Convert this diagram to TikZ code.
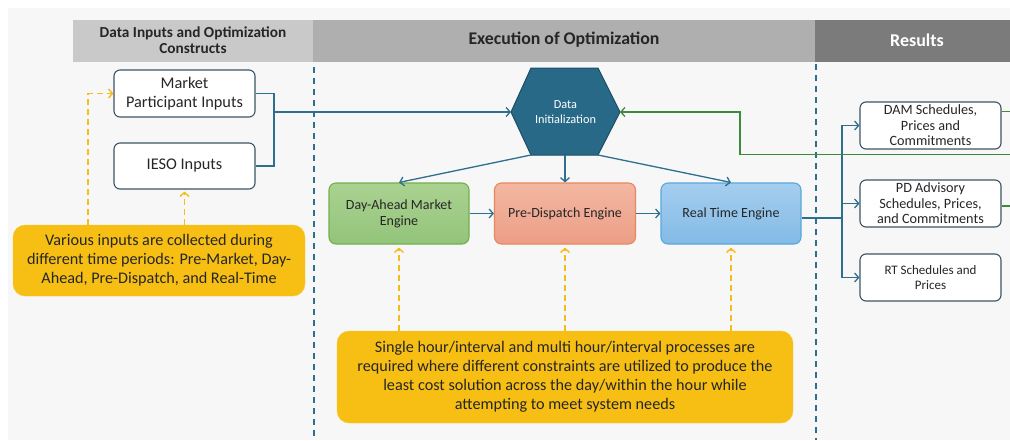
\documentclass[tikz,border=0pt]{standalone}
\usepackage{fontspec}
\setmainfont{Carlito}
\usetikzlibrary{arrows.meta,calc}
\definecolor{bgc}{HTML}{F7F7F7}
\definecolor{hdrA}{HTML}{C9C9C9}
\definecolor{hdrB}{HTML}{AFAFAF}
\definecolor{hdrC}{HTML}{7B7B7B}
\definecolor{conn}{HTML}{2E6F8E}
\definecolor{slate}{HTML}{3B5566}
\definecolor{hexfill}{HTML}{276987}
\definecolor{hexdraw}{HTML}{1D4E66}
\definecolor{damtop}{HTML}{AAD290}
\definecolor{dambot}{HTML}{93C47B}
\definecolor{damdraw}{HTML}{72B04E}
\definecolor{pdtop}{HTML}{F3B7A2}
\definecolor{pdbot}{HTML}{EC9E86}
\definecolor{pddraw}{HTML}{E8875F}
\definecolor{rttop}{HTML}{A5CEEF}
\definecolor{rtbot}{HTML}{83BAE6}
\definecolor{rtdraw}{HTML}{57A8DD}
\definecolor{yel}{HTML}{F7BF14}
\definecolor{yeldash}{HTML}{F5BD1A}
\definecolor{gline}{HTML}{3C8A3C}
\definecolor{txt}{HTML}{262626}
\tikzset{
  x=1pt, y=-1pt,
  inbox/.style={draw=slate, line width=1.1pt, fill=white, rounded corners=6pt, inner sep=0pt, align=center, text=txt},
  engbox/.style={line width=1.1pt, rounded corners=7pt, inner sep=0pt, align=center, minimum width=140pt, minimum height=61pt, text=txt, font=\fontsize{14}{16}\selectfont},
  resbox/.style={inbox, minimum width=141pt, minimum height=47pt, font=\fontsize{14.2}{15.5}\selectfont},
  notebox/.style={fill=yel, draw=yel!80!white, rounded corners=12pt, inner sep=0pt, align=center, text=txt, font=\fontsize{16.2}{19}\selectfont},
  conn/.style={draw=conn, line width=1.3pt, -{Straight Barb[length=4pt,width=9pt,line width=1.3pt]}},
  connplain/.style={draw=conn, line width=1.3pt},
  gconn/.style={draw=gline, line width=1.3pt},
  ydash/.style={draw=yeldash, line width=1.6pt, dash pattern=on 6pt off 4pt},
  ytip/.style={-{Straight Barb[length=4pt,width=9pt,line width=1.4pt]}},
  vsep/.style={draw=conn, line width=1.3pt, dash pattern=on 6pt off 5pt},
  hdr/.style={inner sep=0pt, align=center, font=\bfseries}
}
\begin{document}
\begin{tikzpicture}
\useasboundingbox (0,0) rectangle (1010,440);
\fill[white] (0,0) rectangle (1010,440);
\fill[bgc] (8,8) rectangle (1010,440);
% headers
\fill[hdrA] (73,20) rectangle (313,62);
\fill[hdrB] (313,20) rectangle (815,62);
\fill[hdrC] (815,20) rectangle (1010,62);
\node[hdr, text=txt, font=\fontsize{15.3}{16}\selectfont\bfseries] (h1) at (193,40) {Data Inputs and Optimization\\Constructs};
\node[hdr, text=txt, font=\fontsize{17.8}{18}\selectfont\bfseries] (h2) at (564,40) {Execution of Optimization};
\node[hdr, text=white, font=\fontsize{18}{18}\selectfont\bfseries] (h3) at (917,40) {Results};
% separators
\coordinate (s1t) at (314,67); \coordinate (s1b) at (314,440);
\coordinate (s2t) at (816,64); \coordinate (s2b) at (816,440);
\draw[vsep] (s1t) -- (s1b);
\draw[vsep] (s2t) -- (s2b);
% input boxes
\node[inbox, minimum width=141pt, minimum height=47pt, font=\fontsize{16.3}{19}\selectfont] (mpi) at (184.5,93.5) {Market\\Participant Inputs};
\node[inbox, minimum width=141pt, minimum height=46pt, font=\fontsize{16.3}{19}\selectfont] (ieso) at (184.5,166) {IESO Inputs};
% hexagon
\coordinate (hl) at (511,112);
\coordinate (htl) at (531,68);
\coordinate (htr) at (598,68);
\coordinate (hr) at (620,112);
\coordinate (hbr) at (598,155);
\coordinate (hbl) at (531,155);
\coordinate (hb) at (565,155);
\filldraw[fill=hexfill, draw=hexdraw, line width=1pt] (hl) -- (htl) -- (htr) -- (hr) -- (hbr) -- (hbl) -- cycle;
\node[inner sep=0pt, align=center, text=white, font=\fontsize{12.3}{15}\selectfont] (hex) at (565.5,112) {Data\\Initialization};
% engines
\node[engbox, draw=damdraw, top color=damtop, bottom color=dambot, minimum width=140pt] (dam) at (399,213.5) {Day-Ahead Market\\Engine};
\node[engbox, draw=pddraw, top color=pdtop, bottom color=pdbot, minimum width=141pt] (pd) at (565,213.5) {Pre-Dispatch Engine};
\node[engbox, draw=rtdraw, top color=rttop, bottom color=rtbot] (rt) at (731,213.5) {Real Time Engine};
% results
\node[resbox] (r1) at (930.5,125.5) {DAM Schedules,\\Prices and\\Commitments};
\node[resbox] (r2) at (930.5,203.5) {PD Advisory\\Schedules, Prices,\\and Commitments};
\node[resbox, font=\fontsize{13}{15}\selectfont] (r3) at (930.5,277.5) {RT Schedules and\\Prices};
% notes
\node[notebox, minimum width=292pt, minimum height=71pt] (n1) at (159,260.5) {Various inputs are collected during\\different time periods: Pre-Market, Day-\\Ahead, Pre-Dispatch, and Real-Time};
\node[notebox, minimum width=456pt, minimum height=92pt] (n2) at (565,377) {Single hour/interval and multi hour/interval processes are\\required where different constraints are utilized to produce the\\least cost solution across the day/within the hour while\\attempting to meet system needs};
% input connectors
\coordinate (j1) at (274,112);
\draw[connplain] (mpi.east) -| (j1);
\draw[connplain] (ieso.east) -| (j1);
\draw[conn] (j1) -- (hl);
% hex to engines
\draw[conn] (hbl) -- (dam.north);
\draw[conn] (hb) -- (pd.north);
\draw[conn] (hbr) -- (rt.north);
% engine chain
\draw[conn] (dam.east) -- (pd.west);
\draw[conn] (pd.east) -- (rt.west);
% to results
\coordinate (j2) at (842,218);
\draw[connplain] (rt.east |- j2) -- (j2);
\draw[conn] (j2) |- (r1.west);
\draw[conn] (j2) |- (r2.west);
\draw[conn] (j2) |- (r3.west);
% green lines
\coordinate (g1) at (1010,111.5);
\coordinate (g2) at (1010,206);
\coordinate (g3) at (1010,154.5);
\coordinate (gc) at (740,154.5);
\draw[gconn] (r1.east |- g1) -- (g1);
\draw[gconn] (r2.east |- g2) -- (g2);
\draw[gconn, -{Straight Barb[length=4pt,width=9pt,line width=1.3pt]}] (g3) -- (gc) |- (hr);
% yellow dashed arrows
\coordinate (ya) at (88,225);
\draw[ydash, ytip] (ya) |- (mpi.west);
\draw[ydash, ytip, shorten >=2pt] (n1.north -| ieso.south) -- (ieso.south);
\draw[ydash, ytip, shorten >=3pt] (n2.north -| dam.south) -- (dam.south);
\draw[ydash, ytip, shorten >=3pt] (n2.north -| pd.south) -- (pd.south);
\draw[ydash, ytip, shorten >=3pt] (n2.north -| rt.south) -- (rt.south);
\end{tikzpicture}
\end{document}
